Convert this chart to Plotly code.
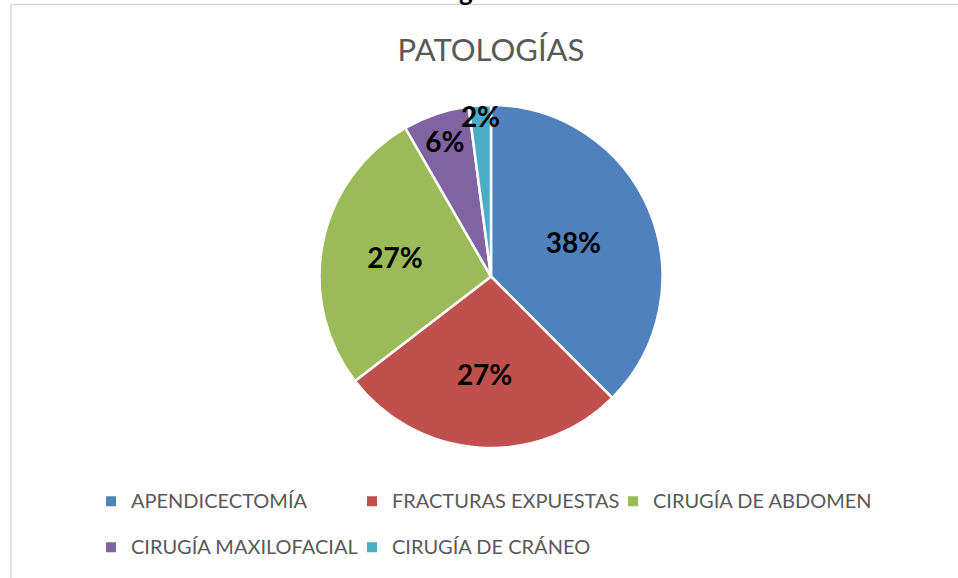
import plotly.graph_objects as go

# Data
categories = ["APENDICECTOMÍA", "FRACTURAS EXPUESTAS", "CIRUGÍA DE ABDOMEN",
              "CIRUGÍA MAXILOFACIAL", "CIRUGÍA DE CRÁNEO"]
counts = [18, 13, 13, 3, 1]
colors = ["#4F81BD", "#C0504D", "#9BBB59", "#8064A2", "#4BACC6"]
title_text = "PATOLOGÍAS"

W, H = 958, 578
cx, cy, r = 491, 276.5, 171.5

legend_labels = ["<span style='font-size:20px'>%s</span><br> " % c for c in categories]

fig = go.Figure(go.Pie(
    labels=legend_labels,
    values=counts,
    sort=False,
    direction="clockwise",
    rotation=0,
    marker=dict(colors=colors, line=dict(color="white", width=2.5)),
    texttemplate="%{percent:.0%}",
    textposition="inside",
    insidetextorientation="horizontal",
    textfont=dict(family="Lato", size=28, color="black", weight="bold"),
    hoverinfo="label+value+percent",
    domain=dict(x=[(cx - r) / W, (cx + r) / W], y=[1 - (cy + r) / H, 1 - (cy - r) / H]),
))

fig.update_layout(
    width=W, height=H,
    margin=dict(l=0, r=0, t=0, b=0, autoexpand=False),
    paper_bgcolor="white",
    plot_bgcolor="white",
    uniformtext=dict(minsize=28, mode="show"),
    title=dict(text=title_text, x=491 / W, xanchor="center", y=1 - 50 / H, yanchor="middle",
               font=dict(family="Lato", size=31, color="#595959")),
    showlegend=True,
    legend=dict(
        orientation="h",
        xref="container", yref="container",
        x=91 / W, xanchor="left",
        y=1 - 484 / H, yanchor="top",
        entrywidth=216,
        valign="top",
        font=dict(family="Lato", size=16.5, color="#595959"),
        itemsizing="constant",
        bgcolor="rgba(0,0,0,0)",
    ),
    shapes=[dict(type="rect", xref="paper", yref="paper",
                 x0=11 / W, x1=1.02, y0=-0.02, y1=1 - 4.5 / H,
                 line=dict(color="#D9D9D9", width=1.5))],
    annotations=[dict(text="<b>g</b>", xref="paper", yref="paper", x=466 / W, y=1 + 9 / H,
                      xanchor="center", yanchor="middle", showarrow=False,
                      font=dict(family="Lato", size=26, color="black"))],
)

fig.write_html("out.html", config={"displayModeBar": False},
               post_script="document.body.style.margin='0';document.body.style.overflow='hidden';")
